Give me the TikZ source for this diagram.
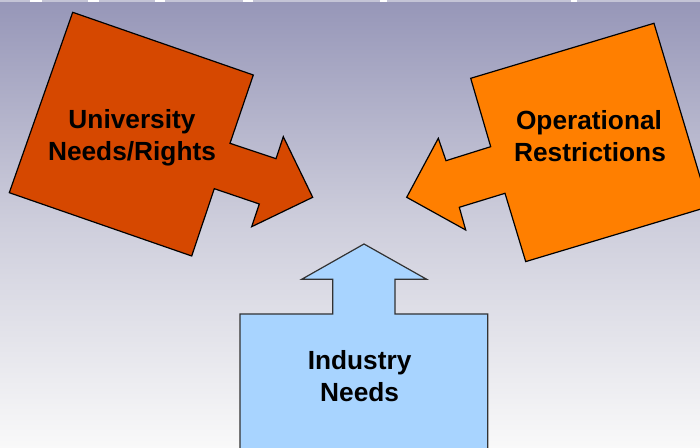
\documentclass[tikz,border=0pt]{standalone}
\usepackage{fontspec}
\setmainfont{Liberation Sans}
\begin{document}
\begin{tikzpicture}[x=0.75pt,y=-0.75pt,
  arrowshape/.style={line width=0.9pt,line join=miter},
  lbl/.style={font=\bfseries\fontsize{19.7pt}{24pt}\selectfont,align=center,text=black,inner sep=0pt,anchor=base}]
\definecolor{bgtop}{RGB}{150,150,184}
\definecolor{bgbot}{RGB}{249,249,249}
\definecolor{redorange}{RGB}{214,72,0}
\definecolor{orange2}{RGB}{255,127,0}
\definecolor{lightblue}{RGB}{168,212,255}
\definecolor{edgegray}{RGB}{50,50,50}
\useasboundingbox (0,0) rectangle (700,448);
\clip (0,0) rectangle (700,448);
\shade[top color=bgtop,bottom color=bgbot,middle color={rgb,255:red,206;green,206;blue,220}] (0,0) rectangle (700,448);
% thin light strip along top
\fill[color={rgb,255:red,196;green,196;blue,214}] (0,0) rectangle (700,2);
\foreach \a/\b in {30/42,88/99,155/165,243/253,380/387,571/577}
  \fill[white] (\a,0) rectangle (\b,2);
% left arrow (University Needs/Rights)
\draw[arrowshape,fill=redorange,draw=black]
  (72.7,12.3) -- (253.3,75) -- (230,143.3) -- (276,158.7) -- (283.3,136.7)
  -- (312.7,197.3) -- (251.7,226.7) -- (259.3,204) -- (214.3,188.7)
  -- (191.7,256) -- (9.3,192.7) -- cycle;
% right arrow (Operational Restrictions)
\draw[arrowshape,fill=orange2,draw=black]
  (654,23.3) -- (709,206.6) -- (525.7,261.6) -- (505,193.3) -- (459.3,207.3)
  -- (465.7,230) -- (406.7,197.3) -- (438.3,138.3) -- (446,160.7)
  -- (490.7,146.7) -- (470.7,78.3) -- cycle;
% bottom arrow (Industry Needs)
\draw[arrowshape,fill=lightblue,draw=edgegray]
  (240,460) -- (240,314) -- (332.7,314) -- (332.7,279.3) -- (301.7,279.3)
  -- (364,244) -- (426.7,279.3) -- (395,279.3) -- (395,314) -- (487.7,314)
  -- (487.7,460) -- cycle;
% labels
\node[lbl] (univ) at (132,128.5) {University};
\node[lbl] (univ2) at (132,161) {Needs/Rights};
\node[lbl] (oper) at (589,129.3) {Operational};
\node[lbl] (oper2) at (590,161.5) {Restrictions};
\node[lbl] (ind) at (359.6,369.3) {Industry};
\node[lbl] (ind2) at (359.6,401.5) {Needs};
\end{tikzpicture}
\end{document}
